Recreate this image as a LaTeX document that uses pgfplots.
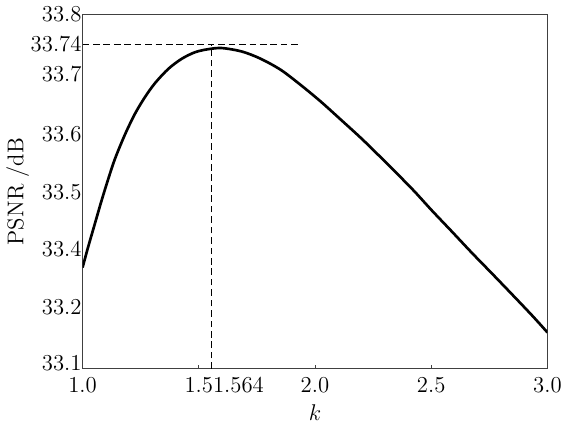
\documentclass[border=0pt]{standalone}
\usepackage{pgfplots}
\pgfplotsset{compat=1.18}
\begin{document}
\begin{tikzpicture}[font=\fontsize{12}{14}\selectfont]
\begin{axis}[
  scale only axis,
  width=245pt, height=187pt,
  xmin=1, xmax=3, ymin=33.1, ymax=33.8,
  axis line style={black!75, line width=0.5pt},
  tick align=inside,
  xtick pos=bottom, ytick pos=left,
  major tick length=2pt, minor tick length=2pt,
  tick style={black!75, line width=0.5pt},
  xtick={1,1.5,2,2.5,3},
  xticklabels={1.0,1.5\rlap{1.564},2.0,2.5,3.0},
  % labels sit where the reference prints them, tick marks on the true values
  ytick={33.111,33.222,33.336,33.449,33.563,33.681,33.74,33.8},
  yticklabels={33.1,33.2,33.4,33.5,33.6,33.7,33.74,33.8},
  ytick style={draw=none},
  minor ytick={33.2,33.3,33.4,33.5,33.6,33.7},
  minor y tick style={black!75, line width=0.5pt},
  yticklabel style={xshift=3pt},
  xticklabel style={yshift=-1pt},
  xlabel={$k$},
  ylabel={PSNR /dB},
  xlabel style={yshift=1pt},
  ylabel style={yshift=-6pt},
]
\addplot[black, line width=1.4pt, smooth] coordinates {
  (1.000,33.300) (1.023,33.339) (1.052,33.385) (1.081,33.431)
  (1.110,33.474) (1.139,33.514) (1.182,33.562) (1.225,33.603)
  (1.268,33.636) (1.312,33.664) (1.369,33.692) (1.427,33.712)
  (1.485,33.725) (1.543,33.731) (1.601,33.733) (1.687,33.726)
  (1.766,33.712) (1.853,33.690) (1.939,33.660) (2.026,33.627)
  (2.113,33.591) (2.199,33.555) (2.286,33.516) (2.416,33.456)
  (2.502,33.413) (2.589,33.371) (2.675,33.329) (2.762,33.288)
  (2.848,33.247) (2.935,33.205) (3.000,33.172)
};
% peak markers
\addplot[black, line width=0.5pt, dash pattern=on 3.5pt off 2pt] coordinates {(1,33.74) (1.93,33.74)};
\addplot[black, line width=0.5pt, dash pattern=on 3.5pt off 2pt] coordinates {(1.553,33.1) (1.553,33.74)};
\end{axis}
\end{tikzpicture}
\end{document}
